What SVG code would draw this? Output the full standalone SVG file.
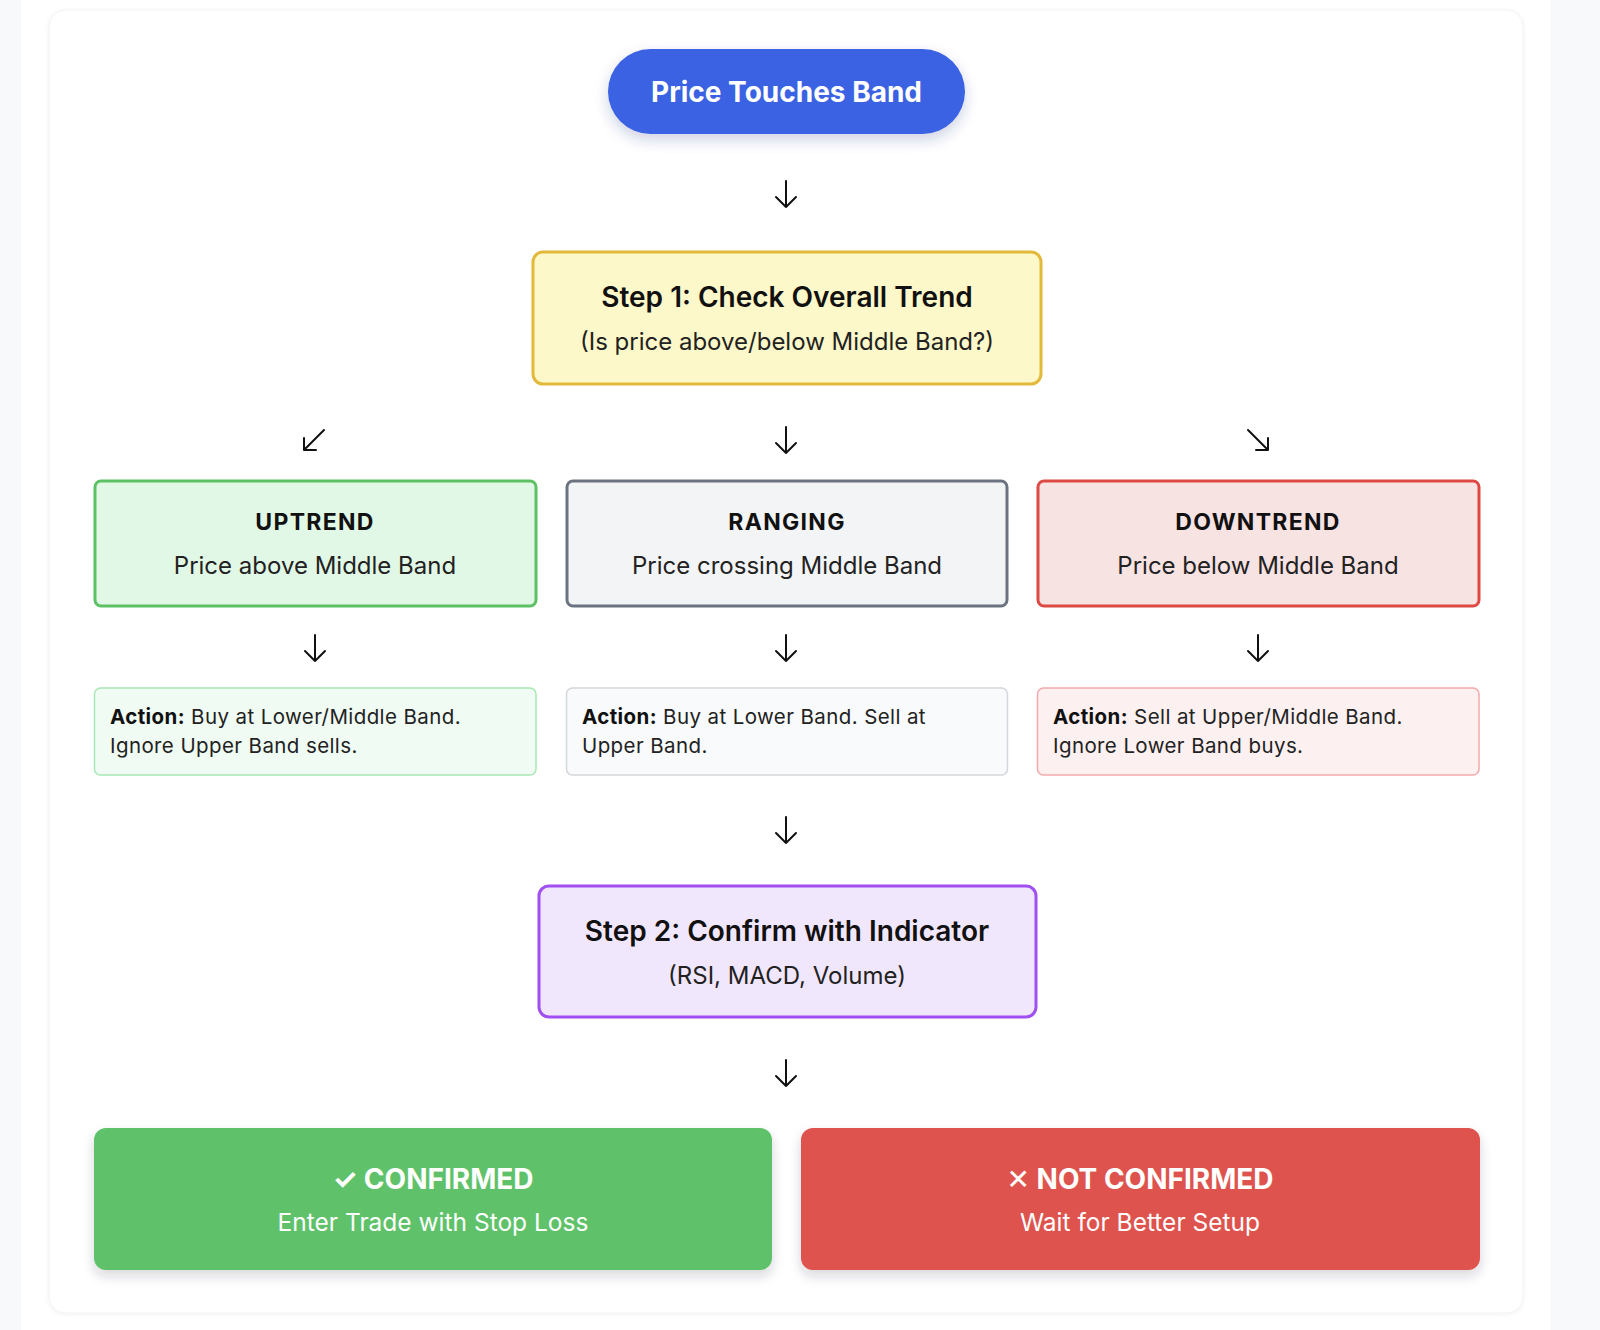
<svg xmlns="http://www.w3.org/2000/svg" width="1600" height="1330" viewBox="0 0 1600 1330">
  <style>
    text { font-family: Inter, "Noto Sans", "DejaVu Sans", sans-serif; text-anchor: middle; }
    .t-pill { font-size: 28px; font-weight: 700; fill: #ffffff; }
    .t-step { font-size: 28px; font-weight: 600; fill: #111111; }
    .t-stepsub { font-size: 24px; font-weight: 400; fill: #222222; }
    .t-trend { font-size: 23px; font-weight: 700; fill: #111111; letter-spacing: 1.3px; }
    .t-trendsub { font-size: 24px; font-weight: 400; fill: #222222; }
    .t-act { font-size: 20.5px; font-weight: 400; fill: #222222; text-anchor: start; letter-spacing: 0.4px; }
    .t-act tspan.b { font-weight: 700; fill: #111111; }
    .t-res { font-size: 28px; font-weight: 700; fill: #ffffff; }
    .t-ressub { font-size: 24.5px; font-weight: 400; fill: #ffffff; }
    .arrow { stroke: #111111; stroke-width: 2; fill: none; stroke-linecap: round; stroke-linejoin: round; }
  </style>
  <defs>
    <filter id="shadow" x="-10%" y="-20%" width="120%" height="160%">
      <feDropShadow dx="0" dy="6" stdDeviation="6" flood-color="#1f2937" flood-opacity="0.18"/>
    </filter>
    <filter id="pillshadow" x="-10%" y="-30%" width="120%" height="180%">
      <feDropShadow dx="0" dy="6" stdDeviation="7" flood-color="#1e3a8a" flood-opacity="0.22"/>
    </filter>
    <filter id="cardshadow" x="-5%" y="-5%" width="110%" height="110%">
      <feDropShadow dx="0" dy="1" stdDeviation="2" flood-color="#000000" flood-opacity="0.06"/>
    </filter>
  </defs>

  <!-- page background -->
  <rect x="0" y="0" width="1600" height="1330" fill="#f8f9fb"/>
  <rect x="21" y="0" width="1530" height="1330" fill="#ffffff"/>
  <rect x="49" y="10" width="1474" height="1303" rx="16" fill="#ffffff" stroke="#f1f2f4" stroke-width="1" filter="url(#cardshadow)"/>

  <!-- connectors -->
  <g id="connectors">
    <path class="arrow" d="M786 181 V207 M776 197 L786 207 L796 197"/>
    <path class="arrow" d="M324 430 L304 450 M304 438 V450 H316"/>
    <path class="arrow" d="M786 427 V453 M776 443 L786 453 L796 443"/>
    <path class="arrow" d="M1248 430 L1268 450 M1268 438 V450 H1256"/>
    <path class="arrow" d="M315 635 V661 M305 651 L315 661 L325 651"/>
    <path class="arrow" d="M786 635 V661 M776 651 L786 661 L796 651"/>
    <path class="arrow" d="M1258 635 V661 M1248 651 L1258 661 L1268 651"/>
    <path class="arrow" d="M786 817 V843 M776 833 L786 843 L796 833"/>
    <path class="arrow" d="M786 1060 V1086 M776 1076 L786 1086 L796 1076"/>
  </g>

  <!-- start pill -->
  <g id="node-start">
    <rect x="608" y="49" width="357" height="85" rx="42.5" fill="#3a62e2" filter="url(#pillshadow)"/>
    <text class="t-pill" x="786.5" y="102">Price Touches Band</text>
  </g>

  <!-- step 1 -->
  <g id="node-step1">
    <rect x="533" y="252" width="508" height="132" rx="10" fill="#fdf8c9" stroke="#e2b93b" stroke-width="3"/>
    <text class="t-step" x="787" y="307">Step 1: Check Overall Trend</text>
    <text class="t-stepsub" x="787" y="350">(Is price above/below Middle Band?)</text>
  </g>

  <!-- trends -->
  <g id="node-uptrend">
    <rect x="95" y="481" width="441" height="125" rx="6" fill="#e2f8e7" stroke="#5cc164" stroke-width="3"/>
    <text class="t-trend" x="315" y="530">UPTREND</text>
    <text class="t-trendsub" x="315" y="574">Price above Middle Band</text>
  </g>
  <g id="node-ranging">
    <rect x="567" y="481" width="440" height="125" rx="6" fill="#f3f4f6" stroke="#6b7280" stroke-width="3"/>
    <text class="t-trend" x="787" y="530">RANGING</text>
    <text class="t-trendsub" x="787" y="574">Price crossing Middle Band</text>
  </g>
  <g id="node-downtrend">
    <rect x="1038" y="481" width="441" height="125" rx="6" fill="#f8e3e3" stroke="#dc4a43" stroke-width="3"/>
    <text class="t-trend" x="1258" y="530">DOWNTREND</text>
    <text class="t-trendsub" x="1258" y="574">Price below Middle Band</text>
  </g>

  <!-- actions -->
  <g id="node-action-up">
    <rect x="94.5" y="688" width="441.5" height="87" rx="6" fill="#f0fbf3" stroke="#a8e8b5" stroke-width="1.5"/>
    <text class="t-act" x="110" y="724"><tspan class="b">Action:</tspan> Buy at Lower/Middle Band.</text>
    <text class="t-act" x="110" y="753">Ignore Upper Band sells.</text>
  </g>
  <g id="node-action-range">
    <rect x="566.5" y="688" width="441" height="87" rx="6" fill="#f9fafb" stroke="#d3d6dc" stroke-width="1.5"/>
    <text class="t-act" x="582" y="724"><tspan class="b">Action:</tspan> Buy at Lower Band. Sell at</text>
    <text class="t-act" x="582" y="753">Upper Band.</text>
  </g>
  <g id="node-action-down">
    <rect x="1037.5" y="688" width="441.5" height="87" rx="6" fill="#fcf0f0" stroke="#f3a9a9" stroke-width="1.5"/>
    <text class="t-act" x="1053" y="724"><tspan class="b">Action:</tspan> Sell at Upper/Middle Band.</text>
    <text class="t-act" x="1053" y="753">Ignore Lower Band buys.</text>
  </g>

  <!-- step 2 -->
  <g id="node-step2">
    <rect x="539" y="886" width="497" height="131" rx="10" fill="#f1e7fd" stroke="#a04ff0" stroke-width="3"/>
    <text class="t-step" x="787" y="941">Step 2: Confirm with Indicator</text>
    <text class="t-stepsub" x="787" y="984">(RSI, MACD, Volume)</text>
  </g>

  <!-- results -->
  <g id="node-confirmed">
    <rect x="94" y="1128" width="678" height="142" rx="12" fill="#5ec26a" filter="url(#shadow)"/>
    <text class="t-res" x="433" y="1189">✓ CONFIRMED</text>
    <text class="t-ressub" x="433" y="1231">Enter Trade with Stop Loss</text>
  </g>
  <g id="node-not-confirmed">
    <rect x="801" y="1128" width="679" height="142" rx="12" fill="#de524d" filter="url(#shadow)"/>
    <text class="t-res" x="1140" y="1189">✕ NOT CONFIRMED</text>
    <text class="t-ressub" x="1140" y="1231">Wait for Better Setup</text>
  </g>
</svg>
